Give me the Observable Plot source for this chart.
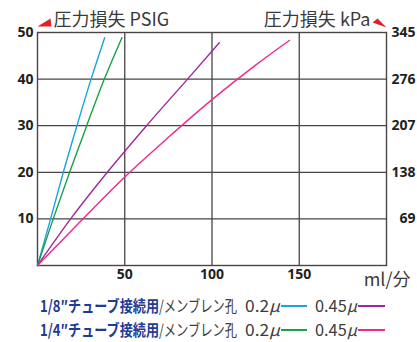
<!DOCTYPE html>
<html><head><meta charset="utf-8">
<script src="https://cdn.jsdelivr.net/npm/d3@7"></script>
<script src="https://cdn.jsdelivr.net/npm/@observablehq/plot@0.6"></script>
<style>
body{margin:0;background:#fff;}
#wrap{position:relative;width:417px;height:342px;overflow:hidden;}
.lg{position:absolute;font-family:"Noto Sans CJK JP",sans-serif;font-size:16px;line-height:16px;white-space:nowrap;transform-origin:0 50%;}
.b{color:#1f3c94;font-weight:700;}
.g{color:#3c3c3c;font-weight:400;}
.g i{font-style:italic;}
.ln{position:absolute;height:1.6px;}
</style></head>
<body><div id="wrap"></div>
<script>
// flow (ml/min) vs pressure loss (PSIG)
const cyan18X = [0, 7.5, 14.8, 22.6, 30.7, 38.5];
const cyan18Y = [0, 10, 20, 30, 40, 48.9];
const green14X = [0, 9, 18.4, 28.2, 38.3, 48.4];
const green14Y = [0, 10, 20, 30, 40, 48.9];
const purple18X = [0, 19, 40, 62.5, 86, 104.2];
const purple18Y = [0, 10, 20, 30, 40, 47.8];
const magenta14X = [0, 25, 50, 75, 100, 125, 144.4];
const magenta14Y = [0, 9.6, 19, 27.5, 35.6, 43, 48.3];
const seriesNames = ["1/8 0.2", "1/4 0.2", "1/8 0.45", "1/4 0.45"];
const seriesColors = ["#1aa3e0", "#1a9f4a", "#a0289c", "#ec2a8e"];
const xTicks = [50, 100, 150];
const yTicks = [10, 20, 30, 40, 50];
const kpaTicks = ["69", "138", "207", "276", "345"];

const seriesX = [cyan18X, green14X, purple18X, magenta14X];
const seriesY = [cyan18Y, green14Y, purple18Y, magenta14Y];
const rows = [];
seriesNames.forEach((s, i) => seriesX[i].forEach((x, j) => rows.push({s, x, y: seriesY[i][j]})));

const grid = "#4a4444";
const red = "#e3202a";
const leftTri = {draw(c){c.moveTo(0,-6);c.lineTo(14,-6);c.lineTo(13,-14);c.closePath();}};
const rightTri = {draw(c){c.moveTo(-14,-10);c.lineTo(-9,-14);c.lineTo(0,-5);c.closePath();}};
const num = {fontFamily:"'Open Sans',sans-serif", fontWeight:700, fontSize:14, fill:"#231f20"};
const jp = {fontFamily:"'Noto Sans CJK JP',sans-serif", fontSize:18, fill:"#3a3a3a", lineAnchor:"middle"};

const chart = Plot.plot({
  width:417, height:292, marginLeft:37, marginRight:31, marginTop:32, marginBottom:27,
  x:{domain:[0,200], axis:null},
  y:{domain:[0,50], axis:null},
  color:{domain:seriesNames, range:seriesColors},
  style:{overflow:"visible", background:"#fff"},
  marks:[
    Plot.ruleX(xTicks, {stroke:grid, strokeWidth:1.3}),
    Plot.ruleY(yTicks.slice(0,4), {stroke:grid, strokeWidth:1.3}),
    Plot.frame({stroke:grid, strokeWidth:1.4}),
    Plot.line(rows, {x:"x", y:"y", z:"s", stroke:"s", strokeWidth:1.4, curve:"monotone-x"}),
    Plot.text(xTicks, {x:d=>d, frameAnchor:"bottom", dy:13, ...num}),
    Plot.text(yTicks, {y:d=>d, frameAnchor:"left", textAnchor:"end", dx:-4, ...num}),
    Plot.text(yTicks, {y:d=>d, frameAnchor:"right", text:(d,i)=>kpaTicks[i], textAnchor:"end", dx:29, ...num}),
    Plot.text(["圧力損失 PSIG"], {frameAnchor:"top-left", textAnchor:"start", dx:16, dy:-12, ...jp}),
    Plot.text(["圧力損失 kPa"], {frameAnchor:"top-right", textAnchor:"end", dx:-16, dy:-12, ...jp}),
    Plot.text(["ml/分"], {frameAnchor:"bottom-right", textAnchor:"end", dx:24, dy:15, ...jp}),
    Plot.dot([{x:0,y:50}], {x:"x", y:"y", symbol:leftTri, fill:red, r:5}),
    Plot.dot([{x:200,y:50}], {x:"x", y:"y", symbol:rightTri, fill:red, r:5})
  ]
});
const wrap = document.getElementById("wrap");
wrap.appendChild(chart);

const legendRows = [
  {label:"1/8″チューブ接続用", mid:305, c1:seriesColors[0], c2:seriesColors[2]},
  {label:"1/4″チューブ接続用", mid:329, c1:seriesColors[1], c2:seriesColors[3]}
];
legendRows.forEach(r => {
  const add = (html, left, right, cls) => {
    const d=document.createElement("div");d.className="lg "+cls;
    d.style.left=left+"px";d.style.top=(r.mid-8)+"px";d.innerHTML=html;wrap.appendChild(d);
    const w=d.getBoundingClientRect().width;
    d.style.transform="scaleX("+((right-left)/w)+")";
  };
  add(r.label, 40, 159, "b");
  add("/メンブレン孔", 159, 237, "g");
  add("0.2<i>μ</i>", 245, 280, "g");
  add("0.45<i>μ</i>", 315, 357, "g");
  const ln = (left, w, c) => {const d=document.createElement("div");d.className="ln";d.style.left=left+"px";d.style.width=w+"px";d.style.top=(r.mid)+"px";d.style.background=c;wrap.appendChild(d);};
  ln(281, 26, r.c1);
  ln(358, 27, r.c2);
});
</script></body></html>
